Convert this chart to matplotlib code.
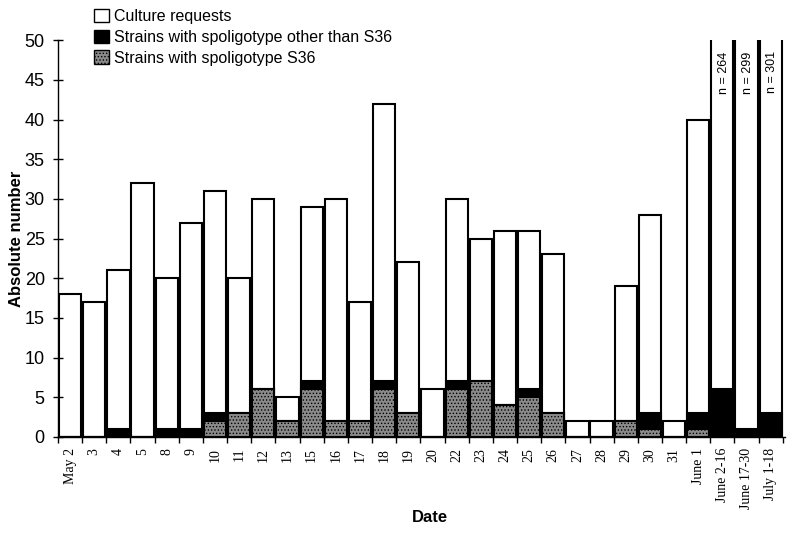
import matplotlib
matplotlib.use('Agg')
from matplotlib import pyplot as plt
from matplotlib.patches import Patch
import numpy as np

dates = ['May 2', '3', '4', '5', '8', '9', '10', '11', '12', '13', '15', '16',
         '17', '18', '19', '20', '22', '23', '24', '25', '26', '27', '28', '29',
         '30', '31', 'June 1', 'June 2-16', 'June 17-30', 'July 1-18']
requests = [18, 17, 21, 32, 20, 27, 31, 20, 30, 5, 29, 30, 17, 42, 22, 6,
            30, 25, 26, 26, 23, 2, 2, 19, 28, 2, 40, 264, 299, 301]
s36 = [0, 0, 0, 0, 0, 0, 2, 3, 6, 2, 6, 2, 2, 6, 3, 0,
       6, 7, 4, 5, 3, 0, 0, 2, 1, 0, 1, 0, 0, 0]
other = [0, 0, 1, 0, 1, 1, 1, 0, 0, 0, 1, 0, 0, 1, 0, 0,
         1, 0, 0, 1, 0, 0, 0, 0, 2, 0, 2, 6, 1, 3]
big_labels = {27: 'n = 264', 28: 'n = 299', 29: 'n = 301'}

plt.rcParams['hatch.linewidth'] = 0.6

fig = plt.figure(figsize=(8, 5.36), dpi=100)
ax = fig.add_axes([0.0725, 0.185, 0.909, 0.74])

x = np.arange(len(dates))
w = 0.92
ax.bar(x, requests, w, color='white', edgecolor='black', linewidth=1.5)
ax.bar(x, np.add(s36, other), w, color='black', edgecolor='black', linewidth=1.5)
ax.bar(x, s36, w, color='#8a8a8a', edgecolor='black', hatch='.....', linewidth=1.5)

for i, t in big_labels.items():
    ax.text(i + 0.05, 48.6, t, rotation=90, ha='center', va='top',
            fontsize=9, family='Liberation Sans')

ax.set_xlim(-0.5, len(dates) - 0.4)
ax.set_ylim(0, 50)
ax.set_yticks(range(0, 51, 5))
ax.set_yticklabels([str(v) for v in range(0, 51, 5)], family='Liberation Sans', fontsize=13)
ax.tick_params(axis='y', direction='inout', length=7, width=1, pad=6)

ax.set_xticks(x)
ax.set_xticklabels(dates, rotation=90, family='Liberation Serif', fontsize=10)
ax.set_xticks(np.arange(-0.5, len(dates), 1), minor=True)
ax.tick_params(axis='x', which='major', length=0, pad=8)
ax.tick_params(axis='x', which='minor', length=4, width=1)

for s in ['top', 'right']:
    ax.spines[s].set_visible(False)
ax.spines['left'].set_linewidth(1)
ax.spines['bottom'].set_linewidth(1)

ax.set_ylabel('Absolute number', family='Liberation Sans', fontsize=12,
              fontweight='bold')
ax.yaxis.set_label_coords(-0.047, 0.5)
ax.set_xlabel('Date', family='Liberation Sans', fontsize=12, fontweight='bold')
ax.xaxis.set_label_coords(0.512, -0.184)

handles = [Patch(facecolor='white', edgecolor='black'),
           Patch(facecolor='black', edgecolor='black'),
           Patch(facecolor='#8a8a8a', edgecolor='black', hatch='.....')]
labels = ['Culture requests', 'Strains with spoligotype other than S36',
          'Strains with spoligotype S36']
fig.legend(handles, labels, loc='upper left', bbox_to_anchor=(0.1, 1.01),
           frameon=False, handlelength=0.9, handleheight=0.9, handletextpad=0.3,
           labelspacing=0.35, prop={'family': 'Liberation Sans', 'size': 11.5})

fig.savefig('out.png', dpi=100)
